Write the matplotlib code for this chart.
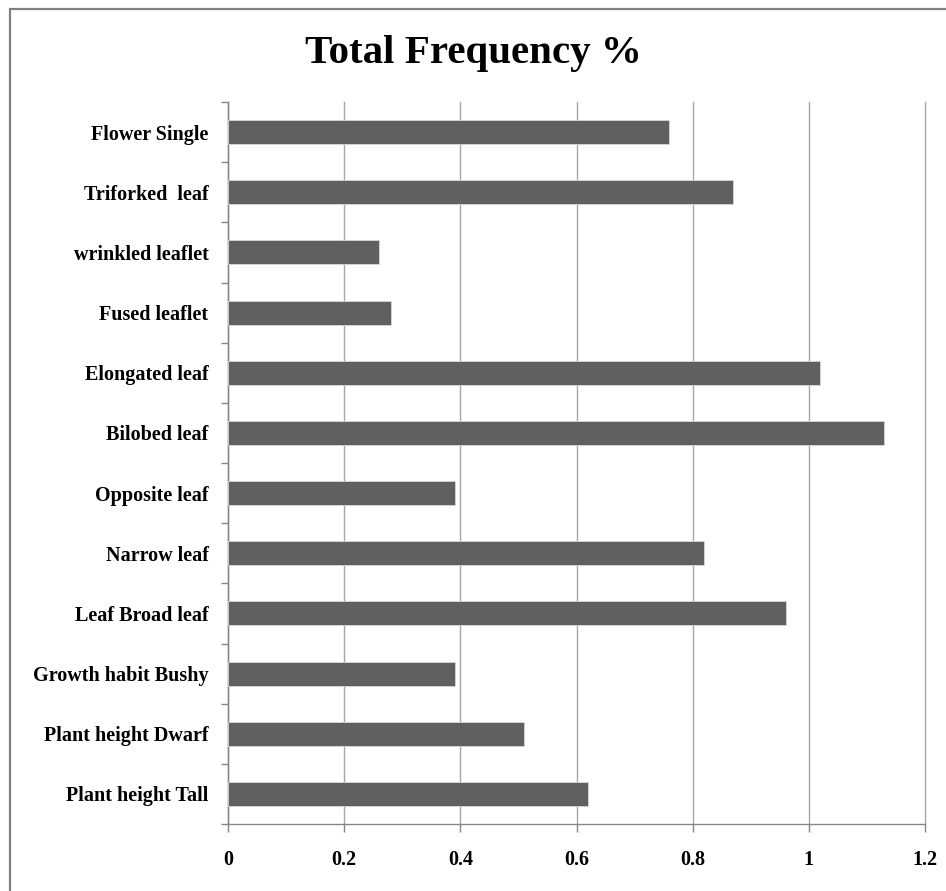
import matplotlib
matplotlib.use('Agg')
import matplotlib.pyplot as plt
from matplotlib.patches import Rectangle
import numpy as np

categories = ['Plant height Tall', 'Plant height Dwarf', 'Growth habit Bushy',
              'Leaf Broad leaf', 'Narrow leaf', 'Opposite leaf', 'Bilobed leaf',
              'Elongated leaf', 'Fused leaflet', 'wrinkled leaflet',
              'Triforked  leaf', 'Flower Single']
values = [0.62, 0.51, 0.39, 0.96, 0.82, 0.39, 1.13, 1.02, 0.28, 0.26, 0.87, 0.76]
xticks = [0, 0.2, 0.4, 0.6, 0.8, 1, 1.2]
xtick_labels = ['0', '0.2', '0.4', '0.6', '0.8', '1', '1.2']

plt.rcParams['font.family'] = ['Liberation Serif', 'DejaVu Serif']
plt.rcParams['font.weight'] = 'bold'

W, H = 946, 891
fig = plt.figure(figsize=(W / 100, H / 100), dpi=100)
ax = fig.add_axes([228 / W, 1 - 824 / H, (925 - 228) / W, (824 - 102) / H])

pos = np.arange(len(categories))
ax.barh(pos, values, height=0.4, color='#606060', edgecolor='#d8d8d8', linewidth=0.6, zorder=3)

ax.set_xlim(0, 1.2)
ax.set_ylim(-0.5, len(categories) - 0.5)
ax.set_xticks(xticks)
ax.set_xticklabels(xtick_labels, fontsize=14.5, fontweight='bold')
ax.set_yticks(pos)
ax.set_yticklabels(categories, fontsize=14.5, fontweight='bold')
ax.set_yticks(np.arange(len(categories) + 1) - 0.5, minor=True)

ax.tick_params(axis='y', which='major', length=0, pad=14)
ax.tick_params(axis='y', which='minor', length=5, width=1, color='#868686', direction='out')
ax.tick_params(axis='x', which='major', length=6, width=1, color='#868686', direction='out', pad=13)

ax.xaxis.grid(True, color='#a6a6a6', linewidth=1, zorder=0)
for line in ax.get_xgridlines():
    line.set_clip_on(False)
ax.set_axisbelow(True)
for side in ('top', 'right'):
    ax.spines[side].set_visible(False)
for side in ('left', 'bottom'):
    ax.spines[side].set_color('#868686')
    ax.spines[side].set_linewidth(1)

fig.text(0.5, 1 - 54 / H, 'Total Frequency %', ha='center', va='center',
         fontsize=29.5, fontweight='bold')

# outer frame, cut off at right and bottom like the source image
fig.patches.append(Rectangle((10 / W, -0.1), 1.2, 1.1 - 9 / H, transform=fig.transFigure,
                             fill=False, edgecolor='#808080', linewidth=1.6))

fig.savefig('out.png', dpi=100)
